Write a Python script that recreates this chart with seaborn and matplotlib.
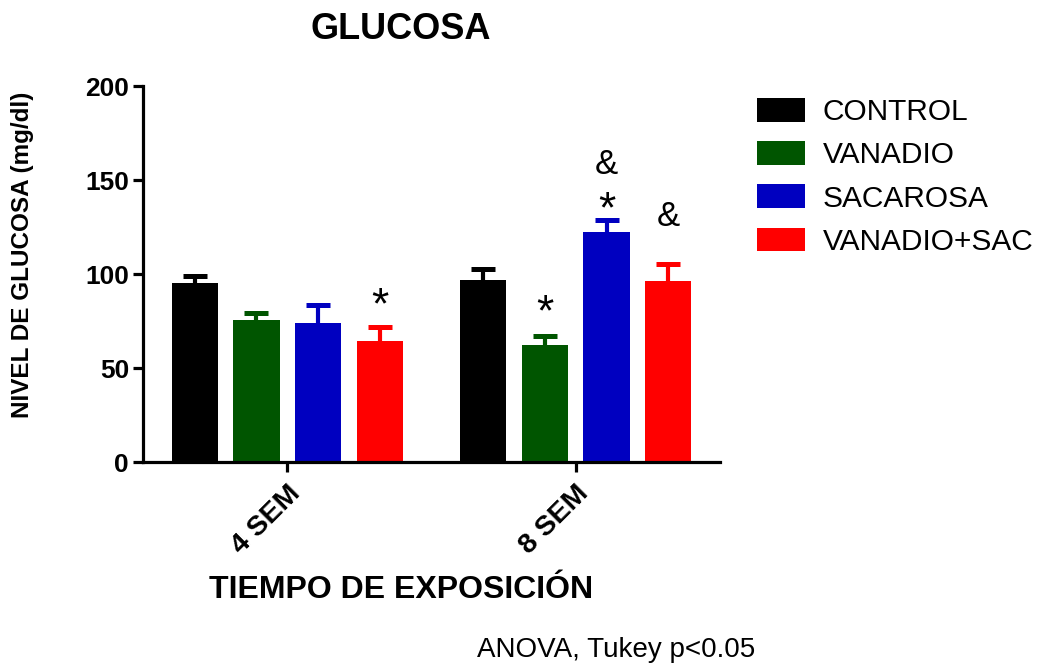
import matplotlib
matplotlib.use("Agg")
import matplotlib.pyplot as plt
import seaborn as sns
import pandas as pd

# Glucose level (mg/dl) by exposure time and treatment group: mean and SEM
tiempos = ["4 SEM", "8 SEM"]
grupos = ["CONTROL", "VANADIO", "SACAROSA", "VANADIO+SAC"]
media_4sem = [95.0, 75.5, 74.0, 64.5]
media_8sem = [97.0, 62.5, 122.5, 96.5]
sem_4sem = [3.8, 4.0, 9.5, 7.5]
sem_8sem = [5.5, 4.3, 6.2, 8.8]
colores = ["#000000", "#005500", "#0000C0", "#FF0000"]

# significance marks: (time, group, text, offset above the error cap in points)
marcas = [
    ("4 SEM", "VANADIO+SAC", "*", 14.5),
    ("8 SEM", "VANADIO", "*", 16.5),
    ("8 SEM", "SACAROSA", "*", 6.5),
    ("8 SEM", "SACAROSA", "&", 40),
    ("8 SEM", "VANADIO+SAC", "&", 34),
]
tam_marca = {"*": 32, "&": 25}

sns.set_theme(style="ticks")
plt.rcParams["font.family"] = ["Liberation Sans", "DejaVu Sans"]
for clave in ["text.color", "axes.labelcolor", "xtick.color", "ytick.color",
              "axes.edgecolor"]:
    plt.rcParams[clave] = "black"

df = pd.DataFrame({
    "tiempo": [t for t in tiempos for _ in grupos],
    "grupo": grupos * len(tiempos),
    "glucosa": media_4sem + media_8sem,
    "error": sem_4sem + sem_8sem,
})

fig = plt.figure(figsize=(10.52, 6.64), dpi=100)
ax = fig.add_axes([143 / 1052, 1 - 462 / 664, 577 / 1052, 376 / 664])

sns.barplot(data=df, x="tiempo", y="glucosa", hue="grupo", order=tiempos,
            hue_order=grupos, palette=colores, width=0.854, gap=0.25,
            errorbar=None, saturation=1, linewidth=0, ax=ax)

# upper-only SEM error bars at each bar's centre
centros = {}
for grupo, cont, color in zip(grupos, ax.containers, colores):
    for tiempo, barra in zip(tiempos, cont.patches):
        cx = barra.get_x() + barra.get_width() / 2
        fila = df[(df["tiempo"] == tiempo) & (df["grupo"] == grupo)].iloc[0]
        media, err = fila["glucosa"], fila["error"]
        centros[(tiempo, grupo)] = (cx, media + err)
        eb = ax.errorbar(cx, media, yerr=[[0], [err]], fmt="none",
                         ecolor=color, elinewidth=3.0, capsize=8.3,
                         capthick=3.6, zorder=1)
        # drop the lower cap so only the upper whisker shows
        eb[1][0].remove()

for tiempo, grupo, texto, off in marcas:
    cx, tope = centros[(tiempo, grupo)]
    ax.annotate(texto, xy=(cx, tope), xytext=(0, off), textcoords="offset points",
                ha="center", va="center", fontsize=tam_marca[texto], color="black")

ax.set_ylim(0, 200)
ax.set_xlim(-0.5, 1.5)
ax.set_yticks([0, 50, 100, 150, 200])
sns.despine(ax=ax)
for lado in ["left", "bottom"]:
    ax.spines[lado].set_linewidth(2.3)
ax.tick_params(axis="both", width=2.3, length=7, color="black")
ax.tick_params(axis="y", labelsize=19, pad=3)
ax.tick_params(axis="x", labelsize=20.5, pad=6.5)
for lab in ax.get_yticklabels():
    lab.set_fontweight("bold")
for lab in ax.get_xticklabels():
    lab.set_fontweight("bold")
    lab.set_rotation(45)
    lab.set_ha("right")
    lab.set_rotation_mode("anchor")

ax.set_title("GLUCOSA", fontsize=26, fontweight="bold", x=(401 - 143) / 577,
             y=(462 - 39) / 376, va="baseline", pad=0)
ax.set_xlabel("TIEMPO DE EXPOSICIÓN", fontsize=23, fontweight="bold")
ax.xaxis.set_label_coords((401 - 143) / 577, (462 - 598) / 376)
ax.xaxis.label.set_va("baseline")
ax.set_ylabel("NIVEL DE GLUCOSA (mg/dl)", fontsize=17.5, fontweight="bold")
ax.yaxis.set_label_coords((23 - 143) / 577, (462 - 255) / 376)
ax.yaxis.label.set_va("center")

handles, labels = ax.get_legend_handles_labels()
if ax.get_legend() is not None:
    ax.get_legend().remove()
fig.legend(handles, labels, loc="upper left", bbox_to_anchor=(757 / 1052, 1 - 98 / 664),
           bbox_transform=fig.transFigure, frameon=False, fontsize=21.5,
           handlelength=1.6, handleheight=0.85, handletextpad=0.6,
           labelspacing=0.5, borderpad=0, borderaxespad=0)

fig.text(477 / 1052, 1 - 657 / 664, "ANOVA, Tukey p<0.05", fontsize=20,
         ha="left", va="baseline")

fig.savefig("out.png", dpi=100, facecolor="white")
